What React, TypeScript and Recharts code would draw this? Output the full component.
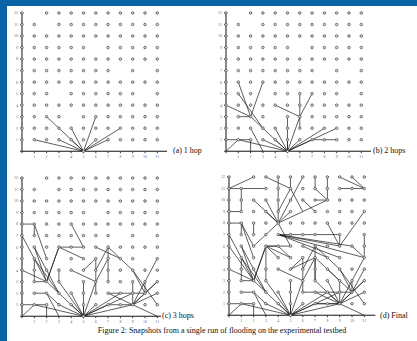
import React from 'react';
import { ScatterChart, Scatter, XAxis, YAxis, ReferenceLine } from 'recharts';

// testbed layout, one string per row from y=12 down to y=1, x=0..11 ('o' = node present)
const nodeRows = [
  'o.oooooooooo',
  'oo.ooooooooo',
  'oooooooooooo',
  'oooooo.ooooo',
  'oooooooooooo',
  'oooooooo.o.o',
  'oooooooooooo',
  'ooo.oooooo.o',
  'oooooooooooo',
  'oooo.ooooooo',
  'oooooooooooo',
  'oooooooooooo',
];
const sourceNode = { x: 5, y: 0 };

const xTicks = [0, 1, 2, 3, 4, 5, 6, 7, 8, 9, 10, 11];
const yTicks = [0, 1, 2, 3, 4, 5, 6, 7, 8, 9, 10, 11, 12];

const panelLabels = ['(a) 1 hop', '(b) 2 hops', '(c) 3 hops', '(d) Final'];
const caption = 'Figure 2: Snapshots from a single run of flooding on the experimental testbed';

// links as [x1, y1, x2, y2]
const hop1Links = [
  [1, 1, 5, 0], [3, 1, 5, 0], [4, 1, 5, 0], [2, 3, 5, 0], [4, 2, 5, 0],
  [6, 3, 5, 0], [6, 1, 5, 0], [7, 1, 5, 0], [8, 2, 5, 0],
];

const hop2Links = [
  ...hop1Links,
  [0, 0, 1, 1], [0, 1, 1, 1], [1, 1, 2, 1], [2, 1, 2, 0],
  [0, 4, 2, 3], [1, 6, 2, 3], [3, 6, 2, 3], [1, 3, 2, 3], [1, 5, 3, 2],
  [2, 2, 3, 0], [4, 4, 6, 3], [6, 5, 6, 2], [7, 5, 6, 3], [5, 3, 5, 0],
  [7, 1, 9, 1], [9, 2, 5, 0], [5, 1, 5, 0],
];

const hop3Links = [
  ...hop2Links,
  [0, 8, 1, 8], [1, 8, 1, 7], [1, 8, 2, 5], [0, 7, 2, 3], [1, 6, 3, 2],
  [1, 3, 1, 5], [2, 3, 3, 6], [3, 6, 5, 6], [4, 8, 5, 6], [3, 6, 5, 5],
  [1, 2, 2, 2], [2, 2, 3, 1], [5, 4, 6, 5], [7, 6, 6, 4], [7, 6, 7, 3],
  [7, 6, 9, 4], [6, 6, 8, 5], [9, 1, 11, 5], [9, 1, 11, 3], [9, 1, 11, 2],
  [9, 1, 11, 0], [9, 1, 10, 2], [9, 1, 9, 3], [9, 1, 7, 2], [9, 1, 5, 0],
  [10, 2, 10, 3], [10, 2, 11, 3], [9, 4, 10, 2], [9, 4, 11, 1], [7, 2, 10, 2],
  [3, 3, 5, 0], [3, 3, 3, 4],
];

const finalLinks = [
  ...hop3Links,
  [0, 11, 2, 12], [0, 11, 3, 11], [1, 11, 1, 9], [3, 12, 5, 11], [4, 12, 4, 8],
  [5, 12, 5, 11], [5, 11, 4, 9], [5, 11, 6, 9], [6, 12, 4, 8], [7, 12, 7, 11],
  [8, 12, 8, 10], [9, 12, 11, 11], [10, 12, 11, 11], [9, 11, 11, 11],
  [7, 11, 8, 10], [7, 10, 8, 10], [4, 8, 8, 10], [6, 10, 7, 9],
  [2, 10, 4, 8], [3, 10, 4, 8], [3, 9, 4, 8], [5, 9, 4, 8], [3, 7, 4, 8],
  [0, 9, 1, 9], [2, 6, 3, 7], [1, 8, 2, 6], [2, 8, 2, 7],
  [4, 7, 9, 7], [4, 7, 9, 6], [4, 7, 11, 5], [4, 7, 10, 6], [4, 7, 9, 5],
  [9, 7, 9, 6], [9, 6, 11, 9], [8, 8, 9, 6], [11, 5, 10, 6], [11, 5, 11, 7],
  [0, 6, 2, 3], [3, 6, 4, 6], [4, 6, 5, 5], [4, 5, 3, 6], [3, 6, 3, 4],
  [7, 5, 7, 3], [7, 5, 9, 3], [5, 4, 7, 5], [8, 4, 10, 2], [10, 2, 11, 4],
  [9, 1, 8, 3], [9, 1, 7, 3], [9, 1, 8, 2], [7, 1, 9, 1], [6, 2, 7, 2],
];

const panelLinks = [hop1Links, hop2Links, hop3Links, finalLinks];

// chart frame positions: x0/y0 = page pixel of the origin, xMax = how far the axis runs
const panelFrames = [
  { x0: 21.7, y0: 151, xMax: 11.85, labelX: 173, labelY: 146 },
  { x0: 226, y0: 151, xMax: 11.8, labelX: 373, labelY: 146 },
  { x0: 21.7, y0: 316, xMax: 11.3, labelX: 162, labelY: 311 },
  { x0: 229.3, y0: 315.7, xMax: 11.9, labelX: 380, labelY: 311 },
];

const nodes: { x: number; y: number }[] = [];
nodeRows.forEach((row, i) => {
  row.split('').forEach((c, x) => {
    if (c === 'o') nodes.push({ x, y: 12 - i });
  });
});

const UX = 12.3;
const UY = 11.52;
const Y_AXIS_W = 12;
const TOP = 4;
const X_AXIS_H = 10.7;

const NodeDot = (props: any) => (
  <circle cx={props.cx} cy={props.cy} r={1.3} fill="#d8d8d8" stroke="#444" strokeWidth={0.7} />
);

const Panel = ({ index }: { index: number }) => {
  const f = panelFrames[index];
  const plotW = f.xMax * UX;
  const plotH = 12 * UY;
  const width = plotW + Y_AXIS_W;
  const height = plotH + TOP + X_AXIS_H;
  const left = f.x0 - Y_AXIS_W;
  const top = f.y0 - plotH - TOP;
  return (
    <div style={{ position: 'absolute', left, top }}>
      <ScatterChart width={width} height={height} margin={{ top: TOP, right: 0, bottom: 0, left: 0 }}>
        <XAxis
          type="number"
          dataKey="x"
          domain={[0, f.xMax]}
          ticks={xTicks}
          interval={0}
          height={X_AXIS_H}
          tickSize={2}
          tickFormatter={(v: number) => (v === 0 ? '' : String(v))}
          tick={{ fontSize: 4, fill: '#666', fontFamily: 'Liberation Serif' }}
          axisLine={{ stroke: '#111', strokeWidth: 1 }}
          tickLine={{ stroke: '#333' }}
        />
        <YAxis
          type="number"
          dataKey="y"
          domain={[0, 12]}
          ticks={yTicks}
          interval={0}
          width={Y_AXIS_W}
          tickSize={2}
          tickFormatter={(v: number) => (v === 0 ? '' : String(v))}
          tick={{ fontSize: 4, fill: '#666', fontFamily: 'Liberation Serif' }}
          axisLine={{ stroke: '#111', strokeWidth: 1 }}
          tickLine={{ stroke: '#333' }}
        />
        {panelLinks[index].map((l, i) => (
          <ReferenceLine
            key={i}
            segment={[{ x: l[0], y: l[1] }, { x: l[2], y: l[3] }]}
            stroke="#1a1a1a"
            strokeWidth={0.7}
            ifOverflow="visible"
          />
        ))}
        <Scatter data={nodes} shape={NodeDot} isAnimationActive={false} />
        <Scatter data={[sourceNode]} shape={NodeDot} isAnimationActive={false} />
      </ScatterChart>
      <div
        style={{
          position: 'absolute',
          left: f.labelX - left,
          top: f.labelY - top,
          fontFamily: 'Liberation Serif',
          fontSize: 8,
          whiteSpace: 'nowrap',
          color: '#111',
        }}
      >
        {panelLabels[index]}
      </div>
    </div>
  );
};

export default function App() {
  return (
    <div
      style={{
        position: 'absolute',
        left: 0,
        top: 0,
        width: 417,
        height: 341,
        background: '#fff',
        overflow: 'hidden',
      }}
    >
      <div style={{ position: 'absolute', left: 0, top: 0, width: 417, height: 6, background: '#0b63a7' }} />
      <div style={{ position: 'absolute', left: 0, top: 0, width: 7, height: 341, background: '#0b63a7' }} />
      {panelFrames.map((_, i) => (
        <Panel key={i} index={i} />
      ))}
      <div
        style={{
          position: 'absolute',
          left: 0,
          width: 444,
          top: 326,
          textAlign: 'center',
          fontFamily: 'Liberation Serif',
          fontSize: 8,
          whiteSpace: 'nowrap',
          color: '#111',
        }}
      >
        {caption}
      </div>
    </div>
  );
}
